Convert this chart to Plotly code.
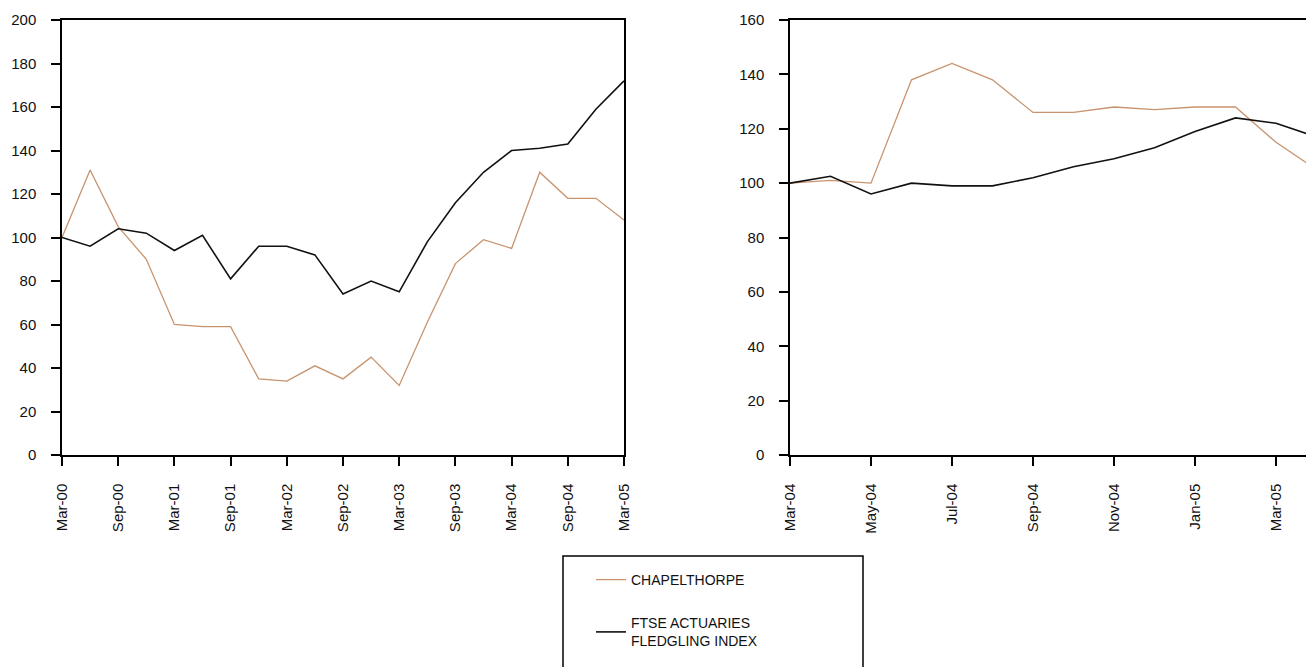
import plotly.graph_objects as go

# Left panel: quarterly, Mar-00 .. Mar-05
left_periods = ["Mar-00", "Jun-00", "Sep-00", "Dec-00", "Mar-01", "Jun-01", "Sep-01", "Dec-01",
                "Mar-02", "Jun-02", "Sep-02", "Dec-02", "Mar-03", "Jun-03", "Sep-03", "Dec-03",
                "Mar-04", "Jun-04", "Sep-04", "Dec-04", "Mar-05"]
left_chapel = [100, 131, 105, 90, 60, 59, 59, 35, 34, 41, 35, 45, 32, 61, 88, 99, 95, 130, 118, 118, 108]
left_ftse = [100, 96, 104, 102, 94, 101, 81, 96, 96, 92, 74, 80, 75, 98, 116, 130, 140, 141, 143, 159, 172]
left_ticks = ["Mar-00", "Sep-00", "Mar-01", "Sep-01", "Mar-02", "Sep-02", "Mar-03", "Sep-03",
              "Mar-04", "Sep-04", "Mar-05"]

# Right panel: monthly
right_periods = ["Mar-04", "Apr-04", "May-04", "Jun-04", "Jul-04", "Aug-04", "Sep-04", "Oct-04",
                 "Nov-04", "Dec-04", "Jan-05", "Feb-05", "Mar-05", "Apr-05"]
right_chapel = [100, 101, 100, 138, 144, 138, 126, 126, 128, 127, 128, 128, 115, 105]
right_ftse = [100, 102.5, 96, 100, 99, 99, 102, 106, 109, 113, 119, 124, 122, 117]
right_ticks = ["Mar-04", "May-04", "Jul-04", "Sep-04", "Nov-04", "Jan-05", "Mar-05"]

series_names = ["CHAPELTHORPE", "FTSE ACTUARIES<br>FLEDGLING INDEX"]
ORANGE = "#C9936D"
BLACK = "#111111"
W, H = 1306, 667

fig = go.Figure()
fig.add_trace(go.Scatter(x=left_periods, y=left_chapel, mode="lines", name=series_names[0],
                         line=dict(color=ORANGE, width=1.3), legendgroup="a", xaxis="x", yaxis="y"))
fig.add_trace(go.Scatter(x=left_periods, y=left_ftse, mode="lines", name=series_names[1],
                         line=dict(color=BLACK, width=1.6), legendgroup="b", xaxis="x", yaxis="y"))
fig.add_trace(go.Scatter(x=right_periods, y=right_chapel, mode="lines", name=series_names[0],
                         line=dict(color=ORANGE, width=1.3), showlegend=False, xaxis="x2", yaxis="y2"))
fig.add_trace(go.Scatter(x=right_periods, y=right_ftse, mode="lines", name=series_names[1],
                         line=dict(color=BLACK, width=1.6), showlegend=False, xaxis="x2", yaxis="y2"))

font = "Liberation Sans, Arial, sans-serif"
ytop = (H - 20) / H
ybot = (H - 455) / H
axis_common = dict(showgrid=False, zeroline=False, showline=True, linecolor="#000", linewidth=1.5,
                   ticks="outside", ticklen=9, tickwidth=1.5, tickcolor="#000", automargin=False,
                   tickfont=dict(family=font, size=15, color="#111"))

fig.update_layout(
    width=W, height=H, margin=dict(l=0, r=0, t=0, b=0, autoexpand=False),
    paper_bgcolor="white", plot_bgcolor="white",
    xaxis=dict(domain=[62 / W, 624 / W], type="category", categoryorder="array",
               categoryarray=left_periods, range=[0, len(left_periods) - 1],
               tickmode="array", tickvals=left_ticks, ticktext=left_ticks, tickangle=-90,
               ticklabelstandoff=12, mirror=True, anchor="y", **axis_common),
    yaxis=dict(domain=[ybot, ytop], range=[0, 200], dtick=20, mirror=True, anchor="x",
               ticklabelstandoff=12, **axis_common),
    xaxis2=dict(domain=[790 / W, 1.0], type="category", categoryorder="array",
                categoryarray=right_periods, range=[0, (1306 - 790) / 40.5],
                tickmode="array", tickvals=right_ticks, ticktext=right_ticks, tickangle=-90,
                ticklabelstandoff=12, mirror=True, anchor="y2", **axis_common),
    yaxis2=dict(domain=[ybot, ytop], range=[0, 160], dtick=20, mirror=False, anchor="x2",
                ticklabelstandoff=12, **axis_common),
    showlegend=True,
    legend=dict(x=591 / W, y=(H - 564) / H, xanchor="left", yanchor="top",
                bgcolor="rgba(0,0,0,0)", borderwidth=0, tracegroupgap=22,
                font=dict(family=font, size=14, color="#111")),
    shapes=[dict(type="rect", xref="paper", yref="paper", x0=563 / W, x1=863 / W,
                 y0=-0.2, y1=(H - 556) / H, line=dict(color="#000", width=1.5))],
)

fig.write_html("out.html", config={"displayModeBar": False},
               post_script="document.body.style.margin='0';document.body.style.overflow='hidden';")
